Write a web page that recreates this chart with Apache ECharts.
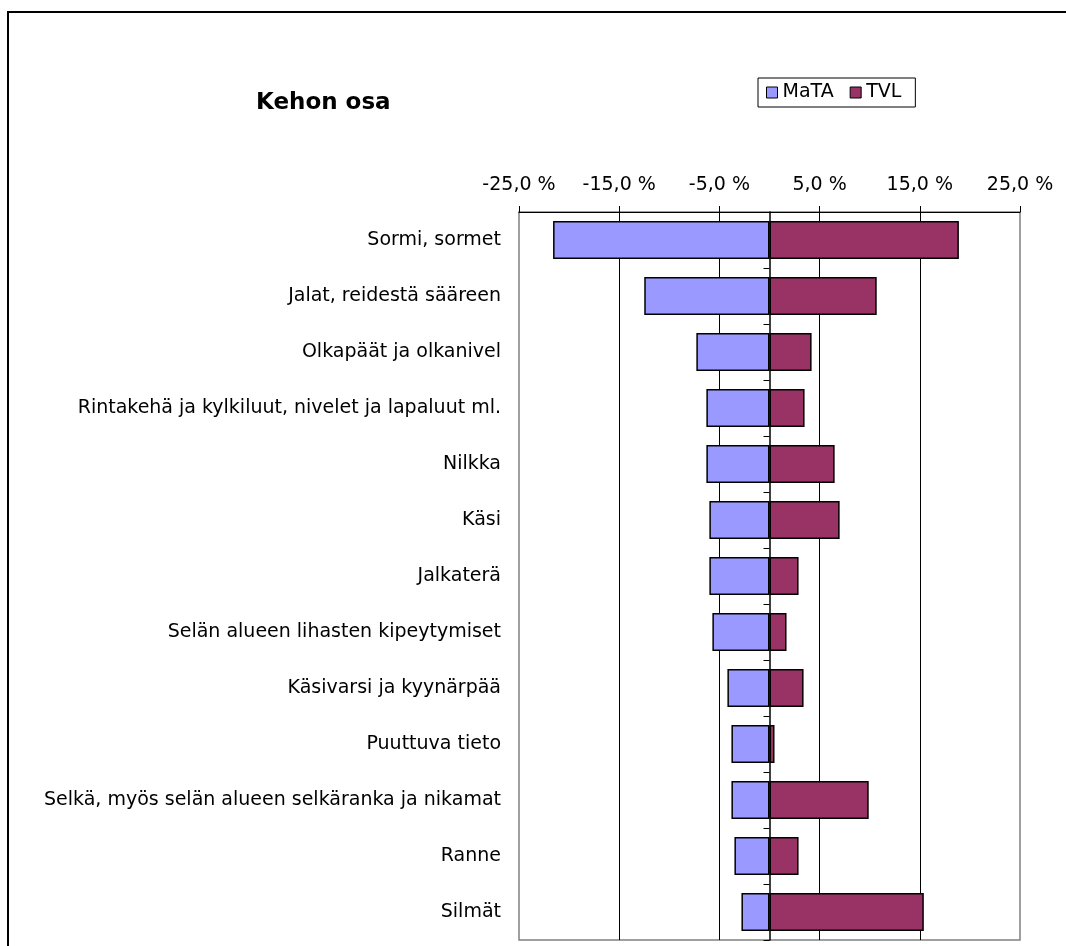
<!DOCTYPE html>
<html>
<head>
<meta charset="utf-8">
<script src="https://cdn.jsdelivr.net/npm/echarts@6/dist/echarts.min.js"></script>
<style>
html,body{margin:0;padding:0;background:#fff;}
#c{width:1066px;height:946px;}
</style>
</head>
<body>
<div id="c"></div>
<script>
const categories = [
  'Sormi, sormet',
  'Jalat, reidestä sääreen',
  'Olkapäät ja olkanivel',
  'Rintakehä ja kylkiluut, nivelet ja lapaluut ml.',
  'Nilkka',
  'Käsi',
  'Jalkaterä',
  'Selän alueen lihasten kipeytymiset',
  'Käsivarsi ja kyynärpää',
  'Puuttuva tieto',
  'Selkä, myös selän alueen selkäranka ja nikamat',
  'Ranne',
  'Silmät'
];
const mataValues = [-21.6, -12.5, -7.3, -6.3, -6.3, -6.0, -6.0, -5.7, -4.2, -3.8, -3.8, -3.5, -2.8];
const tvlValues  = [18.9, 10.7, 4.2, 3.5, 6.5, 7.0, 2.9, 1.7, 3.4, 0.5, 9.9, 2.9, 15.4];
const seriesNames = ['MaTA', 'TVL'];
const axisMin = -25, axisMax = 25, axisStep = 10;

const FONT = 'DejaVu Sans';
const chart = echarts.init(document.getElementById('c'), null, {renderer: 'canvas'});
chart.setOption({
  animation: false,
  backgroundColor: '#fff',
  graphic: [{
    type: 'rect', z: -10, silent: true,
    shape: {x: 8, y: 12, width: 1200, height: 1200},
    style: {fill: 'none', stroke: '#000', lineWidth: 2}
  }],
  title: {
    text: 'Kehon osa', left: 256, top: 92, padding: 0,
    textStyle: {fontFamily: FONT, fontSize: 23, fontWeight: 'bold', color: '#000'}
  },
  legend: {
    data: seriesNames, left: 758, top: 78, padding: [5, 14, 5, 8],
    itemWidth: 11, itemHeight: 11, itemGap: 16, icon: 'rect',
    borderColor: '#000', borderWidth: 1, backgroundColor: '#fff',
    itemStyle: {borderColor: '#000', borderWidth: 1},
    textStyle: {fontFamily: FONT, fontSize: 19, color: '#000'}
  },
  grid: {
    left: 519, right: 46, top: 212, bottom: 6,
    show: true, borderColor: '#808080', borderWidth: 1.5, containLabel: false
  },
  xAxis: {
    type: 'value', position: 'top', min: axisMin, max: axisMax, interval: axisStep,
    axisLine: {show: true, onZero: false, lineStyle: {color: '#000', width: 1}},
    axisTick: {show: true, length: 6, lineStyle: {color: '#000', width: 1}},
    axisLabel: {
      margin: 17, fontFamily: FONT, fontSize: 19, color: '#000',
      formatter: v => v.toFixed(1).replace('.', ',') + ' %'
    },
    splitLine: {show: true, showMinLine: false, showMaxLine: false, lineStyle: {color: '#000', width: 1}}
  },
  yAxis: [{
    type: 'category', data: categories, inverse: true, position: 'left',
    axisLine: {show: false, onZero: false},
    axisTick: {show: false},
    axisLabel: {margin: 18, fontFamily: FONT, fontSize: 19, color: '#000'}
  }, {
    type: 'category', data: categories, inverse: true, position: 'right',
    axisLine: {show: true, onZero: true, lineStyle: {color: '#000', width: 1.5}},
    axisTick: {show: true, inside: true, length: 6, lineStyle: {color: '#000', width: 1}},
    axisLabel: {show: false}
  }],
  series: [{
    name: seriesNames[0], type: 'bar', data: mataValues, yAxisIndex: 0,
    barWidth: '68%', barGap: '-100%',
    itemStyle: {color: '#9999FF', borderColor: '#000', borderWidth: 1.5}
  }, {
    name: seriesNames[1], type: 'bar', data: tvlValues, yAxisIndex: 0,
    barWidth: '68%', barGap: '-100%',
    itemStyle: {color: '#993366', borderColor: '#000', borderWidth: 1.5}
  }]
});
</script>
</body>
</html>
